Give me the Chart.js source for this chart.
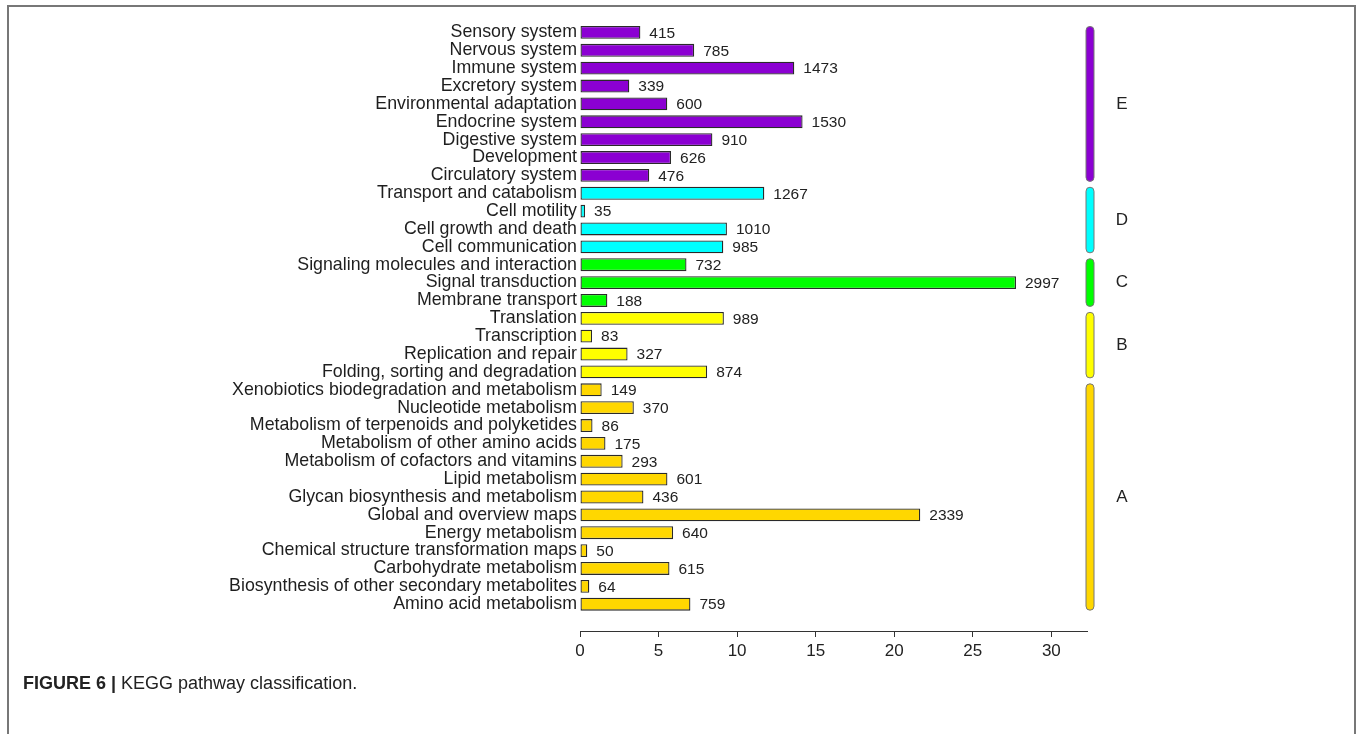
<!DOCTYPE html>
<html>
<head>
<meta charset="utf-8">
<title>KEGG pathway classification</title>
<script src="https://cdn.jsdelivr.net/npm/chart.js@4"></script>
<style>
  html, body { margin: 0; padding: 0; background: #fff; }
  body { width: 1357px; height: 734px; position: relative; overflow: hidden; font-family: "Liberation Sans", Arial, sans-serif; }
  #frame { position: absolute; left: 7px; top: 5px; width: 1345px; height: 760px; border: 2px solid #777; border-bottom: none; }
  #graficoKegg { position: absolute; left: 0; top: 0; }
  #legenda { position: absolute; left: 23px; top: 672px; font-size: 18px; line-height: 22px; color: #222; }
</style>
</head>
<body>
<div id="frame"></div>
<canvas id="graficoKegg" width="1357" height="734"></canvas>
<div id="legenda"><b>FIGURE 6 |</b> KEGG pathway classification.</div>
<script>
// pathways, top to bottom
const pathways = [
  'Sensory system', 'Nervous system', 'Immune system', 'Excretory system',
  'Environmental adaptation', 'Endocrine system', 'Digestive system', 'Development',
  'Circulatory system',
  'Transport and catabolism', 'Cell motility', 'Cell growth and death', 'Cell communication',
  'Signaling molecules and interaction', 'Signal transduction', 'Membrane transport',
  'Translation', 'Transcription', 'Replication and repair', 'Folding, sorting and degradation',
  'Xenobiotics biodegradation and metabolism', 'Nucleotide metabolism',
  'Metabolism of terpenoids and polyketides', 'Metabolism of other amino acids',
  'Metabolism of cofactors and vitamins', 'Lipid metabolism', 'Glycan biosynthesis and metabolism',
  'Global and overview maps', 'Energy metabolism', 'Chemical structure transformation maps',
  'Carbohydrate metabolism', 'Biosynthesis of other secondary metabolites', 'Amino acid metabolism'
];
const geneCounts = [
  415, 785, 1473, 339, 600, 1530, 910, 626, 476,
  1267, 35, 1010, 985,
  732, 2997, 188,
  989, 83, 327, 874,
  149, 370, 86, 175, 293, 601, 436, 2339, 640, 50, 615, 64, 759
];
const pathwayClass = [
  'E', 'E', 'E', 'E', 'E', 'E', 'E', 'E', 'E',
  'D', 'D', 'D', 'D',
  'C', 'C', 'C',
  'B', 'B', 'B', 'B',
  'A', 'A', 'A', 'A', 'A', 'A', 'A', 'A', 'A', 'A', 'A', 'A', 'A'
];
const classLetters = ['E', 'D', 'C', 'B', 'A'];
const totalGenes = 10800;

const coresClasse = { E: '#8B00D2', D: '#00FFFF', C: '#00FF00', B: '#FFFF00', A: '#FFD700' };
const fonte = '"Liberation Sans", Arial, sans-serif';

const percentuais = geneCounts.map(n => n / totalGenes * 100);

// one empty slot at the bottom keeps the x axis clear of the last bar
const rotulos = pathways.concat(['']);
const valores = percentuais.concat([null]);

const rotulosValor = {
  id: 'rotulosValor',
  afterDatasetsDraw(chart) {
    const ctx = chart.ctx;
    const meta = chart.getDatasetMeta(0);
    ctx.save();
    ctx.font = '15.5px ' + fonte;
    ctx.fillStyle = '#222';
    ctx.textAlign = 'left';
    ctx.textBaseline = 'middle';
    geneCounts.forEach((n, i) => {
      const bar = meta.data[i];
      ctx.fillText(String(n), bar.x + 9, bar.y + 1);
    });
    ctx.restore();
  }
};

const faixasClasse = {
  id: 'faixasClasse',
  afterDraw(chart) {
    const ctx = chart.ctx;
    const y = chart.scales.y;
    const x0 = chart.chartArea.right - 1;
    ctx.save();
    classLetters.forEach(letra => {
      const idx = pathwayClass.map((c, i) => c === letra ? i : -1).filter(i => i >= 0);
      const topo = y.getPixelForValue(idx[0]) - 6;
      const base = y.getPixelForValue(idx[idx.length - 1]) + 6;
      ctx.beginPath();
      ctx.roundRect(x0, topo, 8, base - topo, 4);
      ctx.fillStyle = coresClasse[letra];
      ctx.fill();
      ctx.lineWidth = 1;
      ctx.strokeStyle = '#777';
      ctx.stroke();
      ctx.font = '17px ' + fonte;
      ctx.fillStyle = '#222';
      ctx.textAlign = 'center';
      ctx.textBaseline = 'middle';
      ctx.fillText(letra, x0 + 36, (topo + base) / 2);
    });
    ctx.restore();
  }
};

const ctx = document.getElementById('graficoKegg').getContext('2d');
window.graficoKegg = new Chart(ctx, {
  type: 'bar',
  data: {
    labels: rotulos,
    datasets: [{
      data: valores,
      backgroundColor: pathwayClass.map(c => coresClasse[c]),
      borderColor: '#2a2a2a',
      borderWidth: 1.3,
      borderSkipped: false,
      barPercentage: 0.72,
      categoryPercentage: 1
    }]
  },
  options: {
    indexAxis: 'y',
    responsive: false,
    animation: false,
    layout: { padding: { top: 23.5, right: 270, left: 0, bottom: 0 } },
    plugins: { legend: { display: false }, tooltip: { enabled: false } },
    scales: {
      y: {
        grid: { display: false, drawTicks: false },
        border: { display: false },
        ticks: {
          autoSkip: false,
          padding: 3,
          color: '#1e1e1e',
          font: { family: fonte, size: 17.8 }
        },
        afterFit(s) { s.width = 580; }
      },
      x: {
        min: 0,
        max: 32.27,
        grid: { drawOnChartArea: false, drawTicks: true, tickLength: 6, color: '#333' },
        border: { display: true, color: '#333', width: 1 },
        ticks: {
          stepSize: 5,
          includeBounds: false,
          padding: 4,
          color: '#222',
          font: { family: fonte, size: 17 }
        },
        afterFit(s) { s.height = 103; }
      }
    }
  },
  plugins: [rotulosValor, faixasClasse]
});
</script>
</body>
</html>
